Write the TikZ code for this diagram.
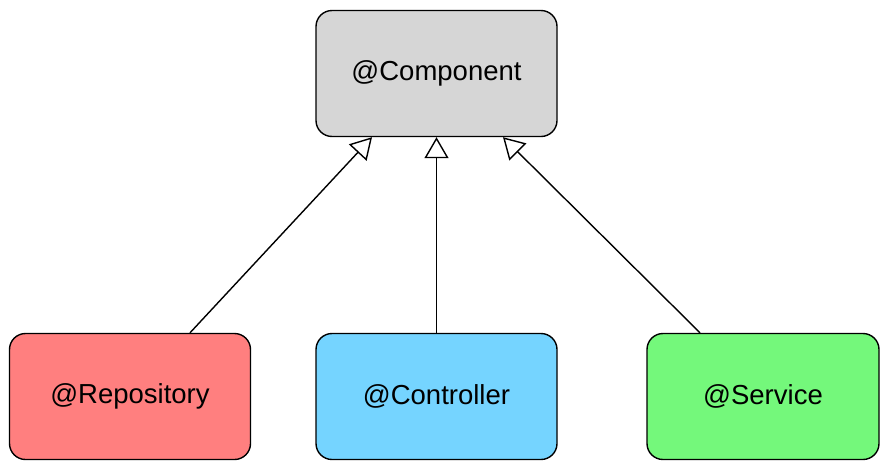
\documentclass[tikz,border=0pt]{standalone}
\usepackage{fontspec}
\setmainfont{Liberation Sans}
\usetikzlibrary{arrows.meta}

\definecolor{compgray}{HTML}{D6D6D6}
\definecolor{repored}{HTML}{FF7F7F}
\definecolor{ctrlblue}{HTML}{75D4FF}
\definecolor{servgreen}{HTML}{74F87B}

\begin{document}
\begin{tikzpicture}[x=1pt, y=-1pt,
    box/.style={draw, line width=1.4pt, rounded corners=16pt,
        minimum width=241pt, minimum height=126pt,
        font=\fontsize{27.5}{32}\selectfont},
    inherit/.style={line width=1.4pt, -{Triangle[open, length=21pt, width=24pt, line width=1.4pt]}}]
    % Fix the page to the reference size
    \useasboundingbox (0,0) rectangle (880,461);

    % The parent annotation
    \node[box, fill=compgray] (comp) at (436.5,73.5) {@Component};

    % The three specialised annotations
    \node[box, fill=repored] (repo) at (130,396.5) {@Repository};
    \node[box, fill=ctrlblue] (ctrl) at (436.5,396.5) {@Controller};
    \node[box, fill=servgreen, minimum width=232pt] (serv) at (763,396.5) {@Service};

    % Inheritance arrows
    \draw[inherit] (repo.north -| 190,0) -- (comp.south -| 372,0);
    \draw[inherit] (ctrl.north) -- (comp.south);
    \draw[inherit] (serv.north -| 700,0) -- (comp.south -| 503,0);
\end{tikzpicture}
\end{document}
